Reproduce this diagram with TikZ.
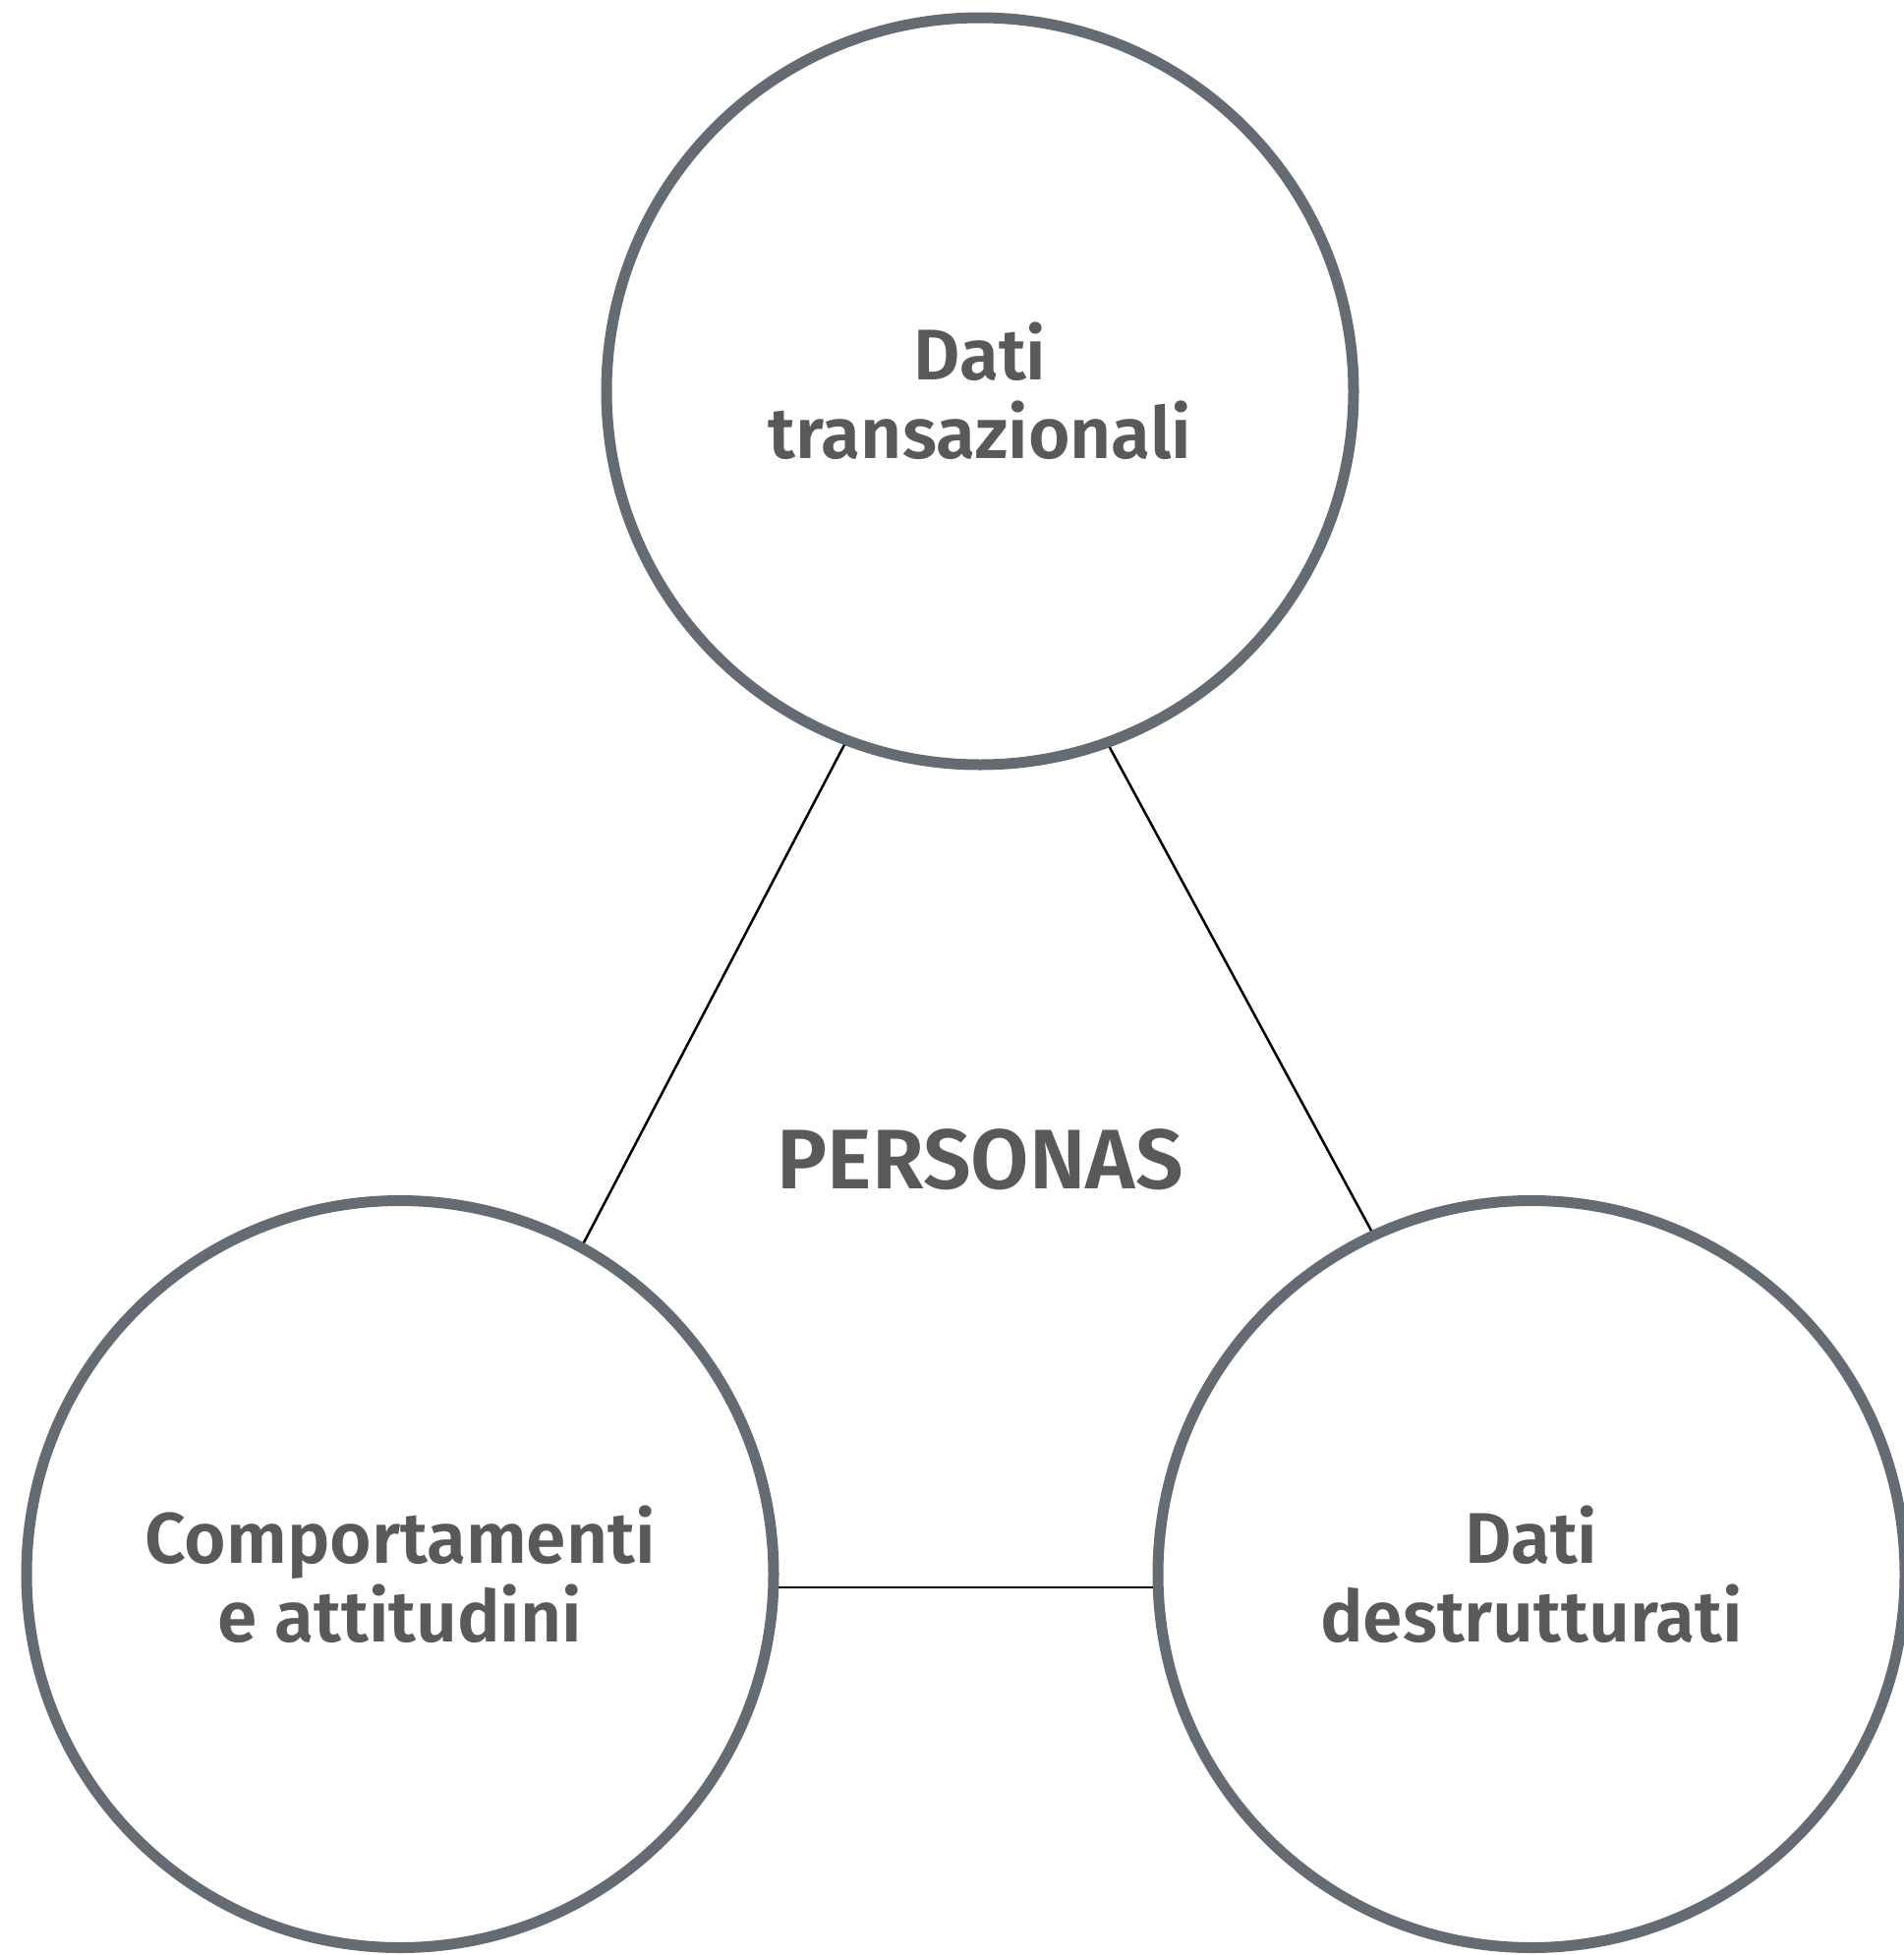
\documentclass[tikz,border=0pt]{standalone}
\usepackage{fontspec}
\setmainfont{Fira Sans}
\newfontfamily\labelfont{Fira Sans SemiBold}
\definecolor{ringgray}{HTML}{656B73}
\definecolor{textgray}{HTML}{595959}
\begin{document}
\begin{tikzpicture}[x=1pt,y=1pt,
  ring/.style={circle, draw=ringgray, line width=11pt, minimum size=760pt, inner sep=0pt, align=center,
    text=textgray, font=\labelfont\fontsize{73}{80}\selectfont},
  link/.style={draw=black, line width=2.5pt}]
\useasboundingbox (0,0) rectangle (1936,-1989);
\node[ring] (top) at (997,-398) {Dati\\transazionali};
\node[ring] (left) at (407,-1601.5) {Comportamenti\\e attitudini};
\node[ring] (right) at (1558,-1601.5) {Dati\\destrutturati};
\node[text=textgray, font=\labelfont\fontsize{86}{90}\selectfont] (center) at (997,-1180) {PERSONAS};
\draw[link] (top.249.6) -- (left.61.1);
\draw[link] (top.290.25) -- (right.115.1);
\draw[link] (left.-2.5) -- (right.182.5);
\end{tikzpicture}
\end{document}
